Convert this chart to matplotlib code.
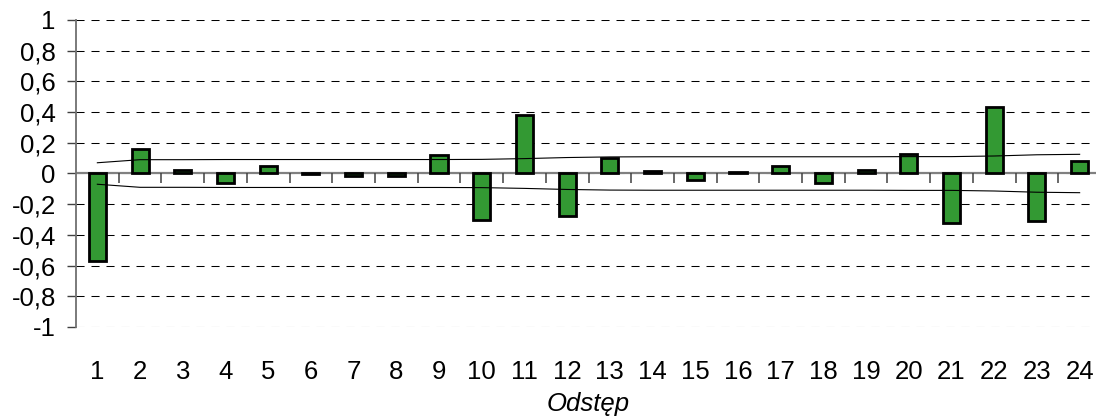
import matplotlib
matplotlib.use("Agg")
import matplotlib.pyplot as plt
import numpy as np

# Autocorrelation coefficients for lags 1..24
lags = list(range(1, 25))
acf_values = [-0.57, 0.16, 0.02, -0.06, 0.05, -0.005, -0.015, -0.015, 0.12, -0.30,
              0.38, -0.28, 0.10, 0.015, -0.04, 0.008, 0.05, -0.065, 0.02, 0.13,
              -0.32, 0.43, -0.31, 0.08]
# Half-width of the confidence band at each lag
band = [0.070, 0.090, 0.090, 0.091, 0.091, 0.091, 0.091, 0.091, 0.091, 0.092,
        0.097, 0.104, 0.108, 0.109, 0.109, 0.109, 0.109, 0.109, 0.109, 0.110,
        0.110, 0.114, 0.122, 0.125]
y_ticks = [1, 0.8, 0.6, 0.4, 0.2, 0, -0.2, -0.4, -0.6, -0.8, -1]
x_title = "Odstęp"

plt.rcParams['font.family'] = ['Liberation Sans', 'DejaVu Sans']
plt.rcParams['lines.scale_dashes'] = False

W, H = 1096, 419
fig = plt.figure(figsize=(W / 100, H / 100), dpi=100)
ax = fig.add_axes([76 / W, 1 - 327 / H, (1101 - 76) / W, (327 - 20) / H])

x = np.array(lags)
ax.set_xlim(0.5, 24.5)
ax.set_ylim(-1, 1)

# dashed horizontal grid
for yv in y_ticks:
    ax.axhline(yv, color='black', lw=0.75, ls=(0, (5.8, 5.0)), zorder=1)

# zero line with category separators
ax.axhline(0, color='#808080', lw=1.6, zorder=2)
bounds = np.arange(1.5, 24.5, 1.0)
ax.vlines(bounds, -0.062, 0, color='#404040', lw=1.1, zorder=2)

# bars
ax.bar(x, acf_values, width=0.40, color='#339933', edgecolor='black',
       linewidth=2.0, zorder=3)

# confidence band
ax.plot(x, band, color='black', lw=0.8, zorder=4)
ax.plot(x, -np.array(band), color='black', lw=0.8, zorder=4)

# axes styling
for s in ['top', 'right', 'bottom']:
    ax.spines[s].set_visible(False)
ax.spines['left'].set_color('#707070')
ax.spines['left'].set_linewidth(1.3)

ax.set_yticks(y_ticks)
ax.set_yticklabels([("%g" % v).replace('.', ',') for v in y_ticks], fontsize=18.5)
ax.tick_params(axis='y', length=6.5, width=1.0, color='#404040', pad=8)

ax.set_xticks(x)
ax.set_xticklabels([str(v) for v in lags], fontsize=18.5)
ax.tick_params(axis='x', length=0, pad=24)

ax.set_xlabel(x_title, fontsize=18.5, style='italic')
ax.xaxis.set_label_coords((588 - 76) / (1101 - 76), -0.213)

fig.savefig("out.png", dpi=100)
